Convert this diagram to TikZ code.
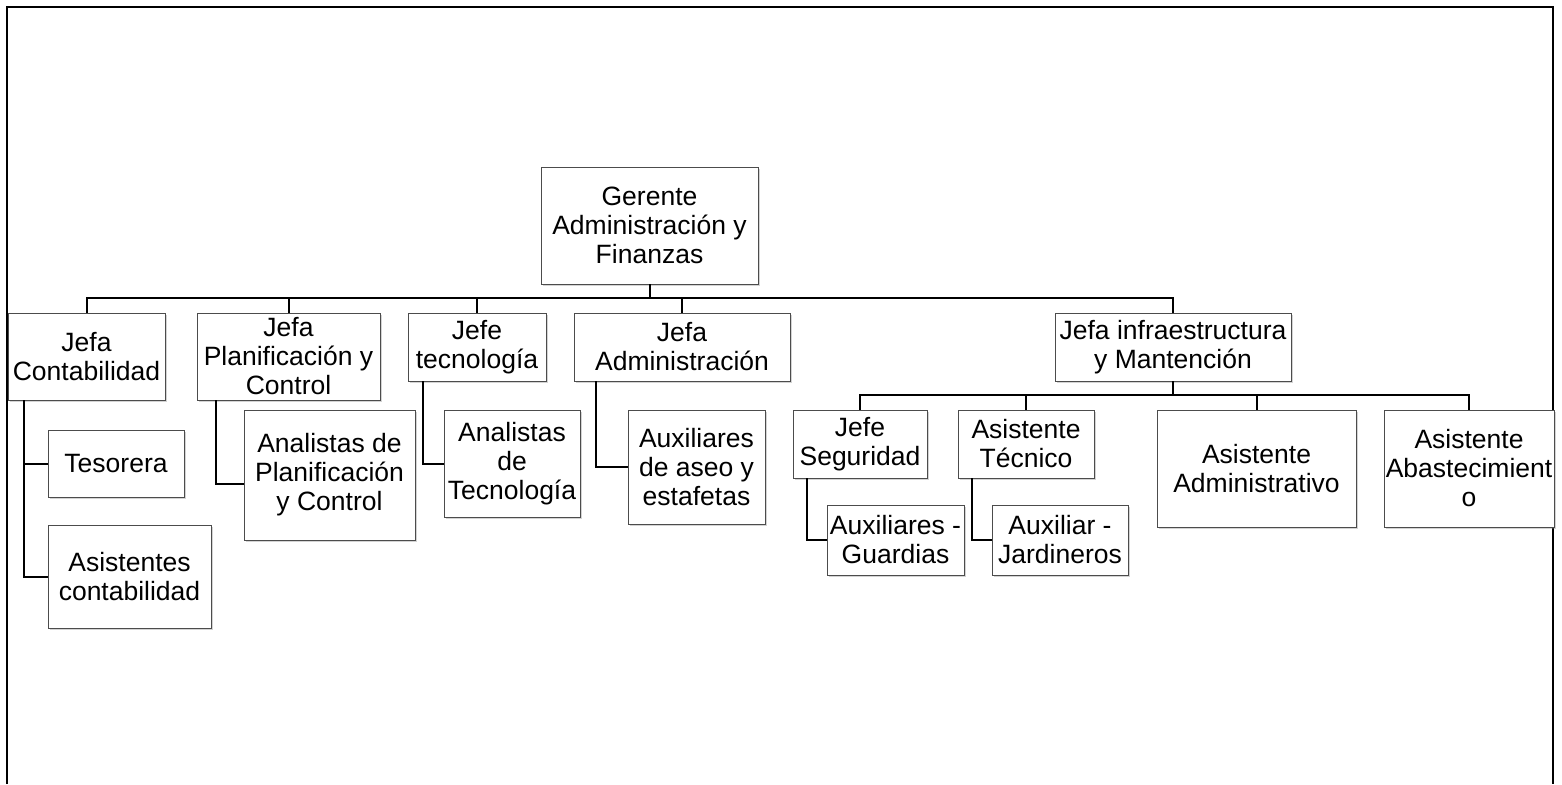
\documentclass[tikz,border=0pt]{standalone}
\usepackage{fontspec}
\setmainfont{Liberation Sans}
\usetikzlibrary{shadows}

\begin{document}
\begin{tikzpicture}[x=0.5pt, y=-0.5pt,
	cargo/.style = {draw=black!70, fill=white, align=center, inner sep=0pt, font=\fontsize{13.25}{14.5}\selectfont, drop shadow={shadow xshift=1pt, shadow yshift=-1pt, opacity=0.35, fill=black!50}},
	linea/.style = {line width=1pt},]
		\useasboundingbox (0,0) rectangle (1562,784);
		\draw[line width=1pt] (7,784) -- (7,7) -- (1553,7) -- (1553,784);
		
		\node[cargo, minimum width=108.5pt, minimum height=58.5pt] (GAF) at (649.5,225.5) {Gerente\\Administración y\\Finanzas};
		\node[cargo, minimum width=78.5pt, minimum height=43.5pt] (JC) at (86.5,356.5) {Jefa\\Contabilidad};
		\node[cargo, minimum width=91.5pt, minimum height=43.5pt] (JP) at (288.5,356.5) {Jefa\\Planificación y\\Control};
		\node[cargo, minimum width=69pt, minimum height=34pt] (JT) at (477,347) {Jefe\\tecnología};
		\node[cargo, minimum width=108pt, minimum height=34pt] (JA) at (682,347) {Jefa\\Administración};
		\node[cargo, minimum width=118pt, minimum height=34pt] (JI) at (1173,347) {Jefa infraestructura\\y Mantención};
		
		\node[cargo, minimum width=68pt, minimum height=33.5pt] (TES) at (116,463.5) {Tesorera};
		\node[cargo, minimum width=81.5pt, minimum height=51.5pt] (ASC) at (129.5,576.5) {Asistentes\\contabilidad};
		\node[cargo, minimum width=85.5pt, minimum height=65pt] (APC) at (329.5,475) {Analistas de\\Planificación\\y Control};
		\node[cargo, minimum width=68pt, minimum height=53.5pt] (ATE) at (512,463.5) {Analistas\\de\\Tecnología};
		\node[cargo, minimum width=68.5pt, minimum height=57pt] (AUX) at (696.5,467) {Auxiliares\\de aseo y\\estafetas};
		\node[cargo, minimum width=67pt, minimum height=34pt] (JS) at (860,444) {Jefe\\Seguridad};
		\node[cargo, minimum width=68pt, minimum height=34pt] (AT) at (1026,444) {Asistente\\Técnico};
		\node[cargo, minimum width=99.5pt, minimum height=58.5pt] (AAD) at (1256.5,468.5) {Asistente\\Administrativo};
		\node[cargo, minimum width=85pt, minimum height=58.5pt] (AAB) at (1469,468.5) {Asistente\\Abastecimient\\o};
		\node[cargo, minimum width=68.5pt, minimum height=35pt] (AG) at (895.5,540) {Auxiliares -\\Guardias};
		\node[cargo, minimum width=68pt, minimum height=35pt] (AJ) at (1060,540) {Auxiliar -\\Jardineros};
		
		\coordinate (BUS) at (649.5,298);
		\coordinate (BUSI) at (1173,395);
		\draw[linea] (GAF.south) -- (BUS);
		\foreach \n in {JC,JP,JT,JA,JI}
			\draw[linea] (BUS) -| (\n.north);
		\draw[linea] (JI.south) -- (BUSI);
		\foreach \n in {JS,AT,AAD,AAB}
			\draw[linea] (BUSI) -| (\n.north);
		
		\draw[linea] ([xshift=8pt]JC.south west) |- (TES.west);
		\draw[linea] ([xshift=8pt]JC.south west) |- (ASC.west);
		\draw[linea] ([xshift=9.5pt]JP.south west) |- ([yshift=-4.5pt]APC.west);
		\draw[linea] ([xshift=7.5pt]JT.south west) |- (ATE.west);
		\draw[linea] ([xshift=11pt]JA.south west) |- (AUX.west);
		\draw[linea] ([xshift=7pt]JS.south west) |- (AG.west);
		\draw[linea] ([xshift=7pt]AT.south west) |- (AJ.west);
	\end{tikzpicture}
\end{document}
